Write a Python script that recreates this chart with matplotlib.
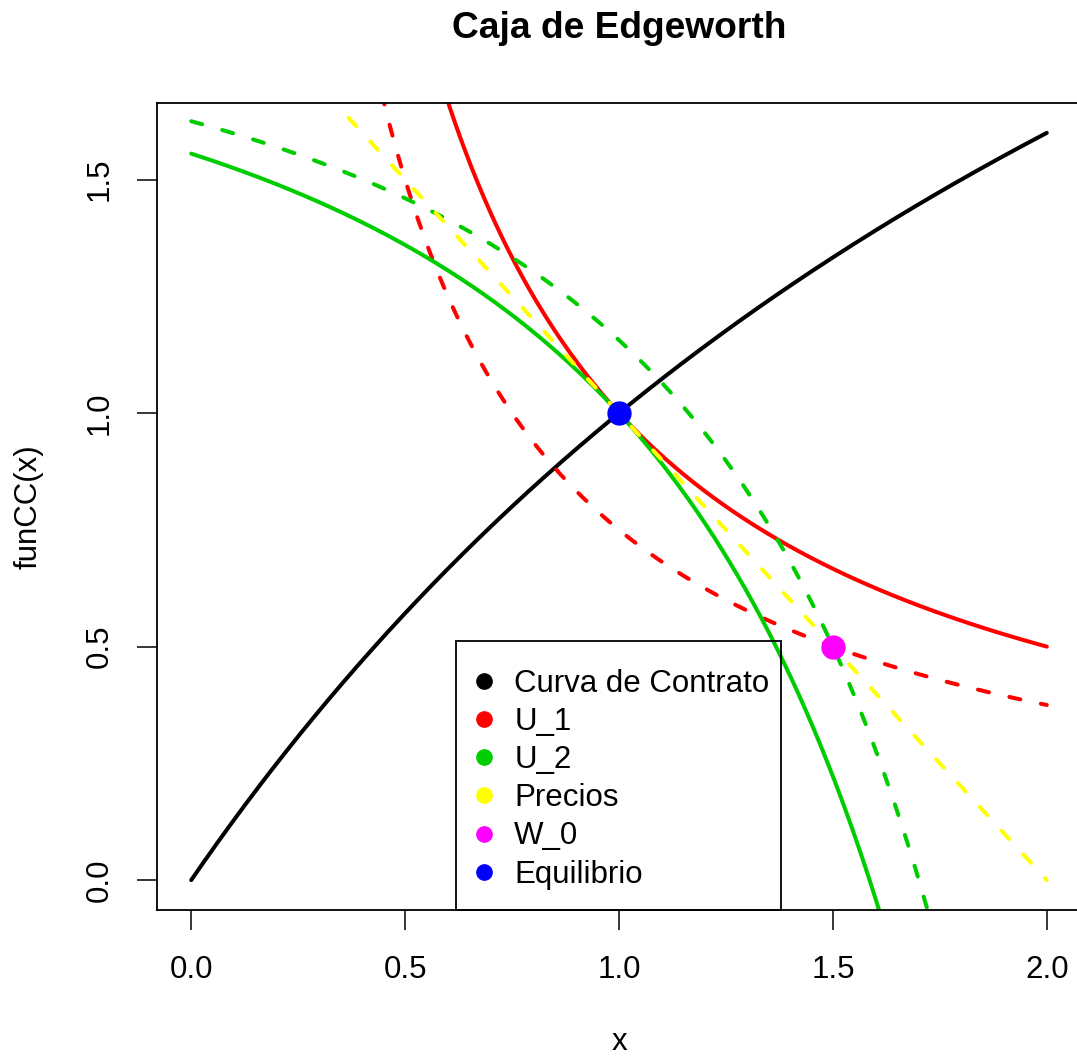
import numpy as np
import matplotlib
matplotlib.use("Agg")
import matplotlib.pyplot as plt
from matplotlib.lines import Line2D
from matplotlib.patches import Rectangle

plt.rcParams['font.family'] = ['Liberation Sans', 'DejaVu Sans']

# Edgeworth box model
box_x = 3.0          # total good x
box_y = 2.0          # total good y
ratio_2 = 2.0        # U_2 = (X-x)^2 * (Y-y);  U_1 = x*y
equilibrium = [1.0, 1.0]
endowment = [1.5, 0.5]
price_line_intercept = 2.0   # y = 2 - x
price_line_slope = -1.0

legend_labels = ["Curva de Contrato", "U_1", "U_2", "Precios", "W_0", "Equilibrio"]
legend_colors = ["black", "red", "#00CD00", "yellow", "magenta", "blue"]
x_ticks = [0.0, 0.5, 1.0, 1.5, 2.0]
y_ticks = [0.0, 0.5, 1.0, 1.5]

W, H = 1077, 1059
fig = plt.figure(figsize=(W / 100, H / 100), dpi=100)
L, R, T, B = 157, 1081, 103, 910
ax = fig.add_axes([L / W, (H - B) / H, (R - L) / W, (B - T) / H])

x = np.linspace(0.0, 2.0, 801)
xs = np.linspace(0.01, 2.0, 801)

def funCC(x):
    return ratio_2 * x * box_y / (box_x + (ratio_2 - 1) * x)

def u1_level(x0, y0):
    return x0 * y0

def u1_curve(x, level):
    return level / x

def u2_level(x0, y0):
    return (box_x - x0) ** ratio_2 * (box_y - y0)

def u2_curve(x, level):
    return box_y - level / (box_x - x) ** ratio_2

lw = 2.9
dash = (2.8, 5.2)
solid_kw = dict(lw=lw, solid_capstyle="round")
dash_kw = dict(lw=lw, ls=(0, dash), dash_capstyle="round")
ax.plot(x, funCC(x), color="black", **solid_kw)
ax.plot(xs, u1_curve(xs, u1_level(*equilibrium)), color="red", **solid_kw)
ax.plot(xs, u1_curve(xs, u1_level(*endowment)), color="red", **dash_kw)
ax.plot(x, u2_curve(x, u2_level(*equilibrium)), color="#00CD00", **solid_kw)
ax.plot(x, u2_curve(x, u2_level(*endowment)), color="#00CD00", **dash_kw)
ax.plot(x, price_line_intercept + price_line_slope * x, color="yellow", **dash_kw)
ax.plot([endowment[0]], [endowment[1]], "o", color="magenta", ms=16.5)
ax.plot([equilibrium[0]], [equilibrium[1]], "o", color="blue", ms=16.5)

ax.set_xlim(-0.08, 2.08)
ax.set_ylim(-0.064, 1.664)
ax.set_xticks(x_ticks)
ax.set_xticklabels([f"{v:.1f}" for v in x_ticks])
ax.set_yticks(y_ticks)
ax.set_yticklabels([f"{v:.1f}" for v in y_ticks], rotation=90, va="center")
ax.tick_params(axis="both", length=14.4, width=1.1, labelsize=22.5, color="black")
ax.tick_params(axis="x", pad=18)
ax.tick_params(axis="y", pad=16)
for s in ax.spines.values():
    s.set_linewidth(1.3)

ax.set_xlabel("x", fontsize=22.5, labelpad=30)
ax.set_ylabel("funCC(x)", fontsize=22.5, labelpad=30)
fig.text((L + R) / 2 / W, 1 - 28 / H, "Caja de Edgeworth", ha="center", va="center",
         fontsize=26.7, fontweight="bold")

handles = [Line2D([], [], marker="o", ls="none", color=c, ms=11) for c in legend_colors]
leg = ax.legend(handles, legend_labels, loc="upper left",
                bbox_to_anchor=((468 - L) / (R - L), (B - 669) / (B - T)),
                frameon=False, fontsize=22.5, borderpad=0, borderaxespad=0,
                handlelength=1.0, handletextpad=0.48, labelspacing=0.26)
ax.add_patch(Rectangle(((456 - L) / (R - L), 0), (781 - 456) / (R - L), (B - 641) / (B - T),
                       transform=ax.transAxes, fill=False, ec="black", lw=1.3, zorder=5,
                       clip_on=False))

fig.savefig("out.png", dpi=100)
